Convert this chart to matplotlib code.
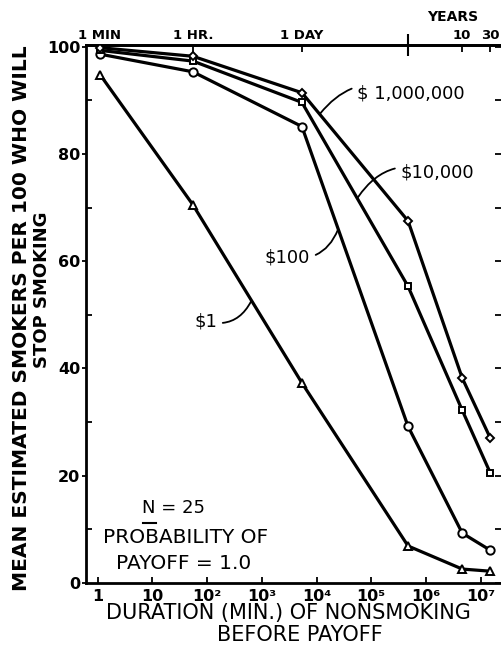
import numpy as np
import matplotlib
matplotlib.use("Agg")
import matplotlib.pyplot as plt
from matplotlib.lines import Line2D

plt.rcParams['font.family'] = ['DejaVu Sans']

# x positions (minutes) as they sit on the printed log axis
duration_min = [1.1, 55, 5400, 4.7e5, 4.6e6, 1.5e7]
pay_1 = [94.8, 70.5, 37.3, 6.9, 2.6, 2.2]
pay_100 = [98.6, 95.3, 85.1, 29.2, 9.3, 6.1]
pay_10000 = [99.3, 97.3, 89.6, 55.3, 32.2, 20.5]
pay_1000000 = [99.8, 98.2, 91.4, 67.5, 38.2, 27.0]

x_ticks = [1, 10, 1e2, 1e3, 1e4, 1e5, 1e6, 1e7]
x_ticklabels = ["1", "10", "10²", "10³", "10⁴", "10⁵", "10⁶", "10⁷"]
top_labels = ["1 MIN", "1 HR.", "1 DAY", "", "10", "30"]

fig = plt.figure(figsize=(5.01, 6.45), dpi=100)
ax = fig.add_axes([86 / 501, 62 / 645, 415 / 501, 538 / 645])

series = [
    (pay_1, "^", 5.5),
    (pay_100, "o", 6),
    (pay_10000, "s", 5),
    (pay_1000000, "D", 4.5),
]
for vals, mk, ms in series:
    ax.plot(duration_min, vals, color="black", lw=2.3, marker=mk, ms=ms,
            mfc="white", mec="black", mew=1.4, zorder=3)

ax.set_xscale("log")
ax.set_xlim(0.611, 2.35e7)
ax.set_ylim(0, 100.3)

ax.set_xticks(x_ticks)
ax.set_xticklabels(x_ticklabels, fontsize=11.5, fontweight="bold")
ax.xaxis.set_minor_locator(matplotlib.ticker.NullLocator())
ax.tick_params(axis="x", direction="in", length=4, width=1.3, pad=4)

ax.set_yticks(range(0, 101, 20))
ax.set_yticklabels([str(v) for v in range(0, 101, 20)], fontsize=11.5, fontweight="bold")
ax.set_yticks(range(10, 100, 20), minor=True)
ax.tick_params(axis="y", which="major", direction="out", length=3, width=1.3, pad=1)
ax.tick_params(axis="y", which="minor", direction="in", length=4, width=1.3)

for s in ["left", "bottom", "top"]:
    ax.spines[s].set_linewidth(2)
ax.spines["right"].set_visible(False)

# small ticks along the cut-off right edge
rt = ax.secondary_yaxis("right")
rt.set_yticks(range(0, 101, 10))
rt.set_yticklabels([])
rt.tick_params(direction="in", length=4, width=1.3)
rt.spines["right"].set_visible(False)

# top time axis
top = ax.secondary_xaxis("top")
top.set_xticks([duration_min[i] for i in [0, 1, 2, 4, 5]])
top.set_xticklabels([top_labels[i] for i in [0, 1, 2, 4, 5]], fontsize=9.5, fontweight="bold")
top.xaxis.set_minor_locator(matplotlib.ticker.FixedLocator([duration_min[3]]))
top.xaxis.set_minor_formatter(matplotlib.ticker.NullFormatter())
top.tick_params(axis="x", which="major", direction="in", length=5, width=1.3, pad=2)
top.tick_params(axis="x", which="minor", direction="inout", length=16, width=1.5)
top.spines["top"].set_linewidth(2)
ax.text(0.884, 1.052, "YEARS", transform=ax.transAxes, ha="center", va="center",
        fontsize=10, fontweight="bold")

# curve labels
def lab(txt, xt, yt, xa, ya, ha, rad):
    ax.annotate(txt, xy=(xa, ya), xytext=(xt, yt), ha=ha, va="center",
                fontsize=13,
                arrowprops=dict(arrowstyle="-", lw=1.3, color="black",
                                connectionstyle=f"arc3,rad={rad}", shrinkA=2, shrinkB=0))

lab("$ 1,000,000", 5.5e4, 91.2, 1.16e4, 87.5, "left", 0.4)
lab("$10,000", 3.4e5, 76.5, 5.7e4, 71.9, "left", 0.4)
lab("$100", 7.7e3, 60.7, 2.47e4, 65.9, "right", 0.4)
lab("$1", 153, 48.8, 635, 52.5, "right", 0.4)

ax.text(0.212, 0.139, "N = 25", transform=ax.transAxes, ha="center", va="center",
        fontsize=13)
ax.add_line(Line2D([0.137, 0.168], [0.111, 0.111], transform=ax.transAxes,
                   color="black", lw=1.5))
ax.text(0.241, 0.084, "PROBABILITY OF", transform=ax.transAxes, ha="center",
        va="center", fontsize=14.5)
ax.text(0.236, 0.037, "PAYOFF = 1.0", transform=ax.transAxes, ha="center",
        va="center", fontsize=14.5)

# axis titles
fig.text(22 / 501, 1 - 318 / 645, "MEAN ESTIMATED SMOKERS PER 100 WHO WILL",
         rotation=90, ha="center", va="center", fontsize=14.5, fontweight="bold")
fig.text(42 / 501, 1 - 290 / 645, "STOP SMOKING", rotation=90, ha="center",
         va="center", fontsize=13, fontweight="bold")
fig.text(288 / 501, 1 - 613 / 645, "DURATION (MIN.) OF NONSMOKING", ha="center",
         va="center", fontsize=15)
fig.text(300 / 501, 1 - 635 / 645, "BEFORE PAYOFF", ha="center", va="center",
         fontsize=15)

fig.savefig("out.png", dpi=100)
